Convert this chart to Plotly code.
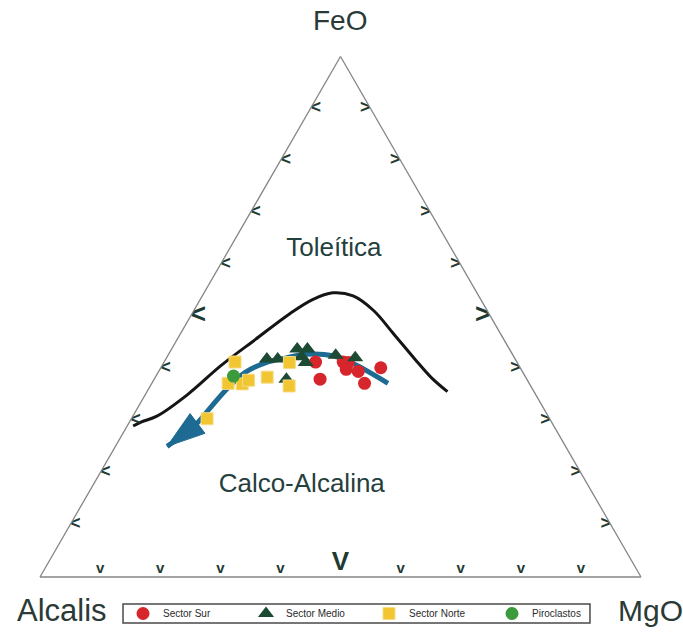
import plotly.graph_objects as go

# ---------------------------------------------------------------
# AFM diagram (Alcalis - FeO - MgO), values in weight-% normalised to 100
# ---------------------------------------------------------------

# Tholeiitic / calc-alkaline dividing curve
div_feo = [29.0, 29.8, 30.9, 35.0, 40.6, 45.6, 50.5, 53.3, 54.6, 54.0, 51.2, 46.7, 41.9, 38.2, 35.6]
div_mgo = [1.0, 2.0, 4.0, 7.0, 9.8, 13.0, 16.2, 18.7, 21.4, 25.1, 29.9, 35.5, 41.4, 46.1, 50.0]
div_alk = [70.0, 68.2, 65.1, 58.0, 49.6, 41.4, 33.3, 28.0, 24.0, 20.9, 18.9, 17.8, 16.7, 15.7, 14.4]

# Differentiation trend (ends in an arrow head)
trend_feo = [37.2, 41.0, 42.5, 42.8, 42.1, 41.2, 39.3, 36.3, 32.6, 29.1, 25.1]
trend_mgo = [39.3, 31.6, 27.5, 22.9, 19.9, 17.0, 14.5, 13.1, 12.1, 11.2, 8.6]
trend_alk = [23.5, 27.4, 30.0, 34.3, 38.0, 41.8, 46.2, 50.6, 55.3, 59.7, 66.3]

# Samples
sur_feo = [41.3, 38.0, 41.3, 39.9, 39.5, 37.2, 40.2, 41.2]
sur_mgo = [25.2, 27.6, 29.8, 31.0, 33.2, 35.4, 36.6, 30.7]
sur_alk = [33.5, 34.4, 28.9, 29.1, 27.3, 27.4, 23.2, 28.1]

medio_feo = [41.9, 41.9, 38.0, 43.8, 43.8, 42.3, 41.2, 42.6, 42.1]
medio_mgo = [16.8, 18.6, 22.0, 20.9, 22.6, 22.4, 23.6, 27.9, 31.4]
medio_alk = [41.3, 39.5, 40.0, 35.3, 33.6, 35.3, 35.2, 29.5, 26.5]

norte_feo = [41.3, 37.2, 37.1, 37.8, 38.4, 41.2, 36.7, 30.4]
norte_mgo = [11.8, 12.7, 15.1, 15.8, 18.6, 20.9, 23.1, 12.6]
norte_alk = [46.9, 50.1, 47.8, 46.4, 43.0, 37.9, 40.2, 57.0]

piro_feo = [38.6]
piro_mgo = [12.9]
piro_alk = [48.5]

# Field labels
field_names = ["Toleítica", "Calco-Alcalina"]
field_feo = [63.0, 17.5]
field_mgo = [17.4, 34.8]
field_alk = [19.6, 47.7]

# Edge tick positions (percent)
tick_vals = [10, 20, 30, 40, 50, 60, 70, 80, 90]

FONT = "Liberation Sans, Arial, sans-serif"
TICK_COLOR = "#1f3a33"
LABEL_COLOR = "#24403d"
TREND_COLOR = "#1d6b93"

fig = go.Figure()

# dividing curve
fig.add_trace(go.Scatterternary(
    a=div_feo, b=div_alk, c=div_mgo, mode="lines",
    line=dict(color="#151515", width=3, shape="spline"),
    showlegend=False, hoverinfo="skip"))

# trend line + arrow head
fig.add_trace(go.Scatterternary(
    a=trend_feo, b=trend_alk, c=trend_mgo, mode="lines",
    line=dict(color=TREND_COLOR, width=5, shape="spline"),
    showlegend=False, hoverinfo="skip"))
fig.add_trace(go.Scatterternary(
    a=trend_feo[-2:], b=trend_alk[-2:], c=trend_mgo[-2:], mode="markers",
    marker=dict(symbol="arrow", size=[0, 40], color=TREND_COLOR, opacity=1,
                angleref="previous", line=dict(width=1, color=TREND_COLOR)),
    showlegend=False, hoverinfo="skip"))

# edge chevrons, the middle one of each side drawn larger
chev_sizes = [27 if v == 50 else 18 for v in tick_vals]

# left edge (MgO = 0)
fig.add_trace(go.Scatterternary(
    a=tick_vals, b=[100 - v for v in tick_vals], c=[0] * len(tick_vals),
    mode="text", text=["<"] * len(tick_vals), textposition="middle right",
    textfont=dict(family=FONT, size=chev_sizes, color=TICK_COLOR, weight="bold"),
    showlegend=False, hoverinfo="skip"))
# right edge (Alcalis = 0)
fig.add_trace(go.Scatterternary(
    a=tick_vals, b=[0] * len(tick_vals), c=[100 - v for v in tick_vals],
    mode="text", text=[">"] * len(tick_vals), textposition="middle left",
    textfont=dict(family=FONT, size=chev_sizes, color=TICK_COLOR, weight="bold"),
    showlegend=False, hoverinfo="skip"))
# base (FeO = 0)
fig.add_trace(go.Scatterternary(
    a=[0] * len(tick_vals), b=[100 - v for v in tick_vals], c=tick_vals,
    mode="text", text=["V" if v == 50 else "v" for v in tick_vals],
    textposition="top center",
    textfont=dict(family=FONT, size=[26 if v == 50 else 15 for v in tick_vals],
                  color=TICK_COLOR, weight="bold"),
    showlegend=False, hoverinfo="skip"))

# field labels
fig.add_trace(go.Scatterternary(
    a=field_feo, b=field_alk, c=field_mgo, mode="text", text=field_names,
    textposition="middle center",
    textfont=dict(family=FONT, size=26, color=LABEL_COLOR),
    showlegend=False, hoverinfo="skip"))

# sample groups
fig.add_trace(go.Scatterternary(
    a=sur_feo, b=sur_alk, c=sur_mgo, mode="markers", name="Sector Sur",
    marker=dict(symbol="circle", size=13, color="#d7262b", line=dict(width=0))))
fig.add_trace(go.Scatterternary(
    a=medio_feo, b=medio_alk, c=medio_mgo, mode="markers", name="Sector Medio",
    marker=dict(symbol="triangle-up", size=14, color="#1d4a33", line=dict(width=0))))
fig.add_trace(go.Scatterternary(
    a=norte_feo, b=norte_alk, c=norte_mgo, mode="markers", name="Sector Norte",
    marker=dict(symbol="square", size=12, color="#f2c632",
                line=dict(width=1, color="#f6dc86"))))
fig.add_trace(go.Scatterternary(
    a=piro_feo, b=piro_alk, c=piro_mgo, mode="markers", name="Piroclastos",
    marker=dict(symbol="circle", size=13, color="#3a9a3c", line=dict(width=0))))

axis_style = dict(showticklabels=False, ticks="", showgrid=False, showline=True,
                  linecolor="#858585", linewidth=1.3, min=0, title=dict(text=""))

W, H = 683, 634
fig.update_layout(
    width=W, height=H,
    margin=dict(l=0, r=0, t=0, b=0),
    paper_bgcolor="white",
    font=dict(family=FONT),
    ternary=dict(
        sum=100,
        bgcolor="white",
        domain=dict(x=[0.05857, 0.93851], y=[0.07453, 0.92626]),
        aaxis=axis_style, baxis=axis_style, caxis=axis_style,
    ),
    legend=dict(
        orientation="h", x=0.1801, xanchor="left", y=0.0323, yanchor="middle",
        bgcolor="rgba(0,0,0,0)", borderwidth=0,
        font=dict(family=FONT, size=10, color="#2b2b2b"),
        entrywidth=78, tracegroupgap=0,
    ),
    # frame around the legend
    shapes=[dict(type="rect", xref="paper", yref="paper",
                 x0=0.1801, x1=0.8638, y0=0.0173, y1=0.0473,
                 line=dict(color="#4a4a4a", width=1.5), fillcolor="white",
                 layer="below")],
    annotations=[
        dict(text="FeO", x=0.4985, y=0.940, xref="paper", yref="paper",
             xanchor="center", yanchor="bottom", showarrow=False,
             font=dict(family=FONT, size=28, color="#2a3a36")),
        dict(text="Alcalis", x=0.0908, y=0.0363, xref="paper", yref="paper",
             xanchor="center", yanchor="middle", showarrow=False,
             font=dict(family=FONT, size=31, color="#2a3a36")),
        dict(text="MgO", x=0.952, y=0.0363, xref="paper", yref="paper",
             xanchor="center", yanchor="middle", showarrow=False,
             font=dict(family=FONT, size=30, color="#2a3a36")),
    ],
    hovermode=False,
)

fig.write_html("out.html", config={"displayModeBar": False})
